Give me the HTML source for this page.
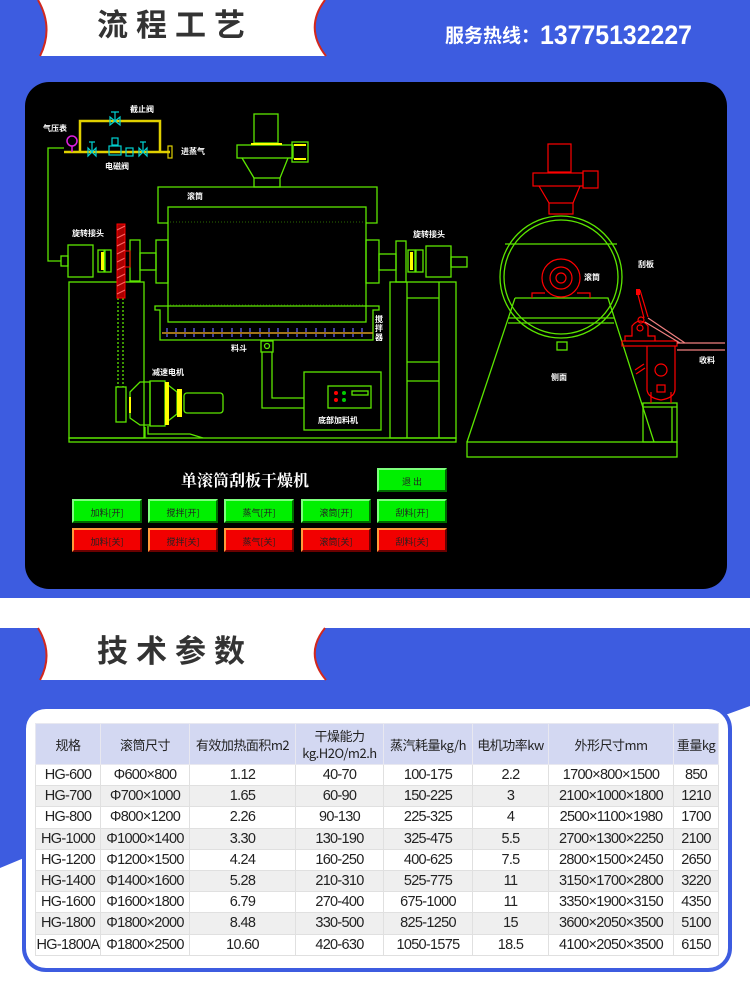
<!DOCTYPE html>
<html><head><meta charset="utf-8">
<style>
*{margin:0;padding:0;box-sizing:border-box}
body{width:750px;height:1004px;background:#fff;position:relative;overflow:hidden;font-family:"Liberation Sans","Noto Sans CJK SC",sans-serif}
.abs{position:absolute}
.tab-title{position:absolute;font-family:"Noto Sans CJK SC",sans-serif;font-weight:700;font-size:31px;color:#333;letter-spacing:8px}
.btn{position:absolute;width:70px;height:24px;font-size:9px;color:#222;text-align:center;line-height:24px;font-family:"Noto Sans CJK SC",sans-serif}
.g{background:#00f000;border-top:2px solid #7dff7d;border-left:2px solid #7dff7d;border-bottom:2px solid #006a00;border-right:2px solid #006a00}
.r{background:#f20000;border-top:2px solid #ff9a3a;border-left:2px solid #ff9a3a;border-bottom:2px solid #6a0000;border-right:2px solid #6a0000}
table{position:absolute;left:35px;top:723px;width:683px;border-collapse:collapse;font-family:"Liberation Sans Narrow","Liberation Sans","Noto Sans CJK SC",sans-serif;font-size:14.5px;letter-spacing:-0.7px;color:#222;table-layout:fixed}
td{border:1px solid #e0e0e0;text-align:center;height:21.2px;padding:0;white-space:nowrap;line-height:20px;overflow:hidden}
tr.h td{background:#d3d8f2;height:41px;font-family:"Noto Sans CJK SC",sans-serif;font-size:13px;letter-spacing:-0.5px;line-height:17px;border-color:#e8e8f0}
tr.gy td{background:#efefef}
</style></head><body>
<svg class="abs" style="left:0;top:0" width="750" height="1004" xmlns="http://www.w3.org/2000/svg">
<rect x="0" y="0" width="750" height="598" fill="#3d5ce0"/>
<path d="M38,0 Q54,28 40,56 L326,56 Q304,28 325,0 Z" fill="#fff"/>
<path d="M38,0 Q54,28 40,56" fill="none" stroke="#d2281e" stroke-width="2"/>
<path d="M325,0 Q304,28 326,56" fill="none" stroke="#d2281e" stroke-width="2"/>
<rect x="25" y="82" width="702" height="507" rx="24" fill="#000"/>
<polygon points="0,628 750,628 750,706 728,714 24,858 0,868" fill="#3d5ce0"/>
<path d="M38,628 Q54,654 40,680 L326,680 Q304,654 325,628 Z" fill="#fff"/>
<path d="M38,628 Q54,654 40,680" fill="none" stroke="#d2281e" stroke-width="2"/>
<path d="M325,628 Q304,654 326,680" fill="none" stroke="#d2281e" stroke-width="2"/>
<rect x="24" y="707" width="706" height="263" rx="22" fill="#fff" stroke="#3d5ce0" stroke-width="4"/>

<g fill="none" stroke="#5ce600" stroke-width="1.3">
<rect x="254" y="114" width="24" height="29"/>
<rect x="237" y="145" width="56" height="13"/>
<rect x="292" y="142" width="16" height="20"/>
<path d="M242,158 L254,178 M288,158 L280,178"/>
<rect x="254" y="178" width="26" height="9"/>
<path d="M168,223 L158,223 L158,187 L377,187 L377,223 L366,223"/>
<rect x="168" y="207" width="198" height="115"/>
<path d="M155,306 L155,310 L160,310 L160,340 L373,340 L373,310 L379,310 L379,306 Z"/>
<rect x="261" y="341" width="12" height="11"/>
<circle cx="267" cy="346" r="2.5"/>
<path d="M262,352 L262,408 L304,408 M272,352 L272,398 L304,398"/>
<rect x="304" y="372" width="77" height="58"/>
<rect x="328" y="386" width="43" height="22"/>
<rect x="352" y="391" width="16" height="4"/>
<rect x="69" y="282" width="75" height="156"/>
<rect x="390" y="282" width="66" height="156"/>
<path d="M407,282 L407,438 M439,282 L439,438 M407,298 L439,298 M407,362 L439,362 M407,381 L439,381"/>
<rect x="69" y="438" width="387" height="4"/>
<rect x="68" y="245" width="25" height="32"/>
<rect x="61" y="256" width="7" height="10"/>
<rect x="98" y="250" width="6" height="22"/><rect x="105" y="250" width="6" height="22"/>
<rect x="130" y="240" width="10" height="41"/>
<rect x="140" y="253" width="16" height="17"/>
<rect x="156" y="240" width="12" height="43"/>
<path d="M61,261 L48,261 L48,148 L64,148"/>
<rect x="366" y="240" width="13" height="43"/>
<rect x="379" y="254" width="17" height="16"/>
<rect x="396" y="241" width="10" height="41"/>
<rect x="408" y="250" width="7" height="22"/><rect x="416" y="250" width="7" height="22"/>
<rect x="426" y="246" width="25" height="31"/>
<rect x="451" y="257" width="16" height="10"/>
<rect x="116" y="387" width="10" height="35"/>
<path d="M130,392 L140,382 L150,382 L150,425 L140,425 L130,418 Z"/>
<rect x="150" y="381" width="15" height="45"/>
<path d="M168,385 L177,392 L177,414 L168,421"/>
<rect x="184" y="393" width="39" height="20" rx="3"/>
<path d="M145,427 L145,438 M148,426 L148,434 L190,434 L203,438"/>
<path d="M118,298 L118,387 M123,298 L123,387" stroke-dasharray="2,2"/>
<circle cx="561" cy="277" r="61"/>
<circle cx="561" cy="277" r="57"/>
<path d="M505,244 L617,244"/>
<path d="M515,298 L608,298 L654,442 M515,298 L467,442"/>
<path d="M508,318 L614,318 M508,323 L614,323"/>
<rect x="557" y="342" width="10" height="8"/>
<rect x="467" y="442" width="210" height="15"/>
<rect x="643" y="403" width="34" height="39"/>
<path d="M643,407 L677,407 M672,407 L672,442"/>
</g>
<path d="M170,222 L364,222 M170,305 L364,305" stroke="#2a6a00" stroke-width="1" stroke-dasharray="1,2"/>
<path d="M162,333 L373,333" stroke="#d89a20" stroke-width="1.5"/>
<g stroke-width="1.2">
<path d="M167,328v9M176,328v9M185,328v9M194,328v9M204,328v9M213,328v9M222,328v9M232,328v9M241,328v9M250,328v9M260,328v9M269,328v9M278,328v9M288,328v9M297,328v9M306,328v9M316,328v9M325,328v9M334,328v9M344,328v9M353,328v9M362,328v9" stroke="#6a6aff" stroke-dasharray="4,2"/>
</g>
<rect x="117" y="224" width="8" height="74" fill="#a00" stroke="#f00" stroke-width="1"/>
<path d="M117,230 L125,226 M117,238 L125,234 M117,246 L125,242 M117,254 L125,250 M117,262 L125,258 M117,270 L125,266 M117,278 L125,274 M117,286 L125,282 M117,294 L125,290" stroke="#f66" stroke-width="1"/>
<rect x="125" y="251" width="5" height="16" fill="none" stroke="#f00"/>
<g fill="#ff0">
<rect x="251" y="143" width="31" height="2"/><rect x="294" y="144" width="12" height="2"/><rect x="294" y="158" width="12" height="2"/>
<rect x="101" y="252" width="3" height="18"/><rect x="410" y="252" width="3" height="18"/>
<rect x="165" y="382" width="4" height="43"/><rect x="177" y="389" width="5" height="28"/>
<rect x="129" y="397" width="2" height="16"/>
</g>
<g fill="none" stroke="#e0d000" stroke-width="2.5">
<path d="M64,152 L170,152"/><path d="M80,152 L80,121 L160,121 L160,152"/>
</g>
<rect x="168" y="146" width="4" height="12" fill="none" stroke="#e0d000" stroke-width="1.2"/>
<g fill="none" stroke="#00d0d0" stroke-width="1.2">
<path d="M110,117 L120,125 L120,117 L110,125 Z M115,121 L115,112 M111,112 L119,112"/>
<path d="M88,148 L96,156 L96,148 L88,156 Z M92,152 L92,142 M89,142 L95,142"/>
<path d="M139,148 L147,156 L147,148 L139,156 Z M143,152 L143,142 M140,142 L146,142"/>
<rect x="109" y="146" width="12" height="9"/><rect x="112" y="138" width="6" height="7"/>
<rect x="126" y="148" width="7" height="8"/>
</g>
<circle cx="72" cy="141" r="5" fill="none" stroke="#e020e0" stroke-width="1.5"/>
<path d="M72,146 L72,152" stroke="#e020e0" stroke-width="1.5"/>
<g fill="#f00"><circle cx="336" cy="393" r="2"/><circle cx="336" cy="400" r="2"/></g>
<g fill="#0c0"><circle cx="344" cy="393" r="2"/><circle cx="344" cy="400" r="2"/></g>
<g fill="none" stroke="#f00" stroke-width="1.2">
<rect x="548" y="144" width="23" height="28"/>
<rect x="533" y="173" width="50" height="13"/>
<rect x="583" y="171" width="15" height="17"/>
<path d="M539,186 L549,203 M580,186 L573,203"/>
<rect x="549" y="203" width="24" height="11"/>
<circle cx="561" cy="278" r="19"/><circle cx="561" cy="278" r="11"/><circle cx="561" cy="278" r="5"/>
<path d="M532,298 L532,293 L545,293 M577,293 L590,293 L590,298"/>
<rect x="622" y="341" width="55" height="5"/>
<path d="M625,341 L625,336 L632,336 L632,326 Q640,316 648,326 L648,336 L655,336 L655,341"/>
<circle cx="640" cy="328" r="3"/><circle cx="641" cy="320" r="3"/>
<path d="M637,291 L644,318 M640,290 L648,317"/>
<path d="M647,346 L647,390 Q648,398 661,400 Q674,398 675,390 L675,346"/>
<circle cx="661" cy="370" r="6"/>
<rect x="657" y="385" width="8" height="7"/>
<path d="M651,392 L651,403 M671,392 L671,403 M635,370 L644,364 M636,374 L645,368"/>
</g>
<rect x="636" y="289" width="4" height="6" fill="#f00"/>
<path d="M648,318 L685,343 M645,322 L680,343 M677,343 L725,343 M677,350 L725,350" stroke="#f08080" stroke-width="1.2" fill="none"/>
<g fill="#fff" font-family="Noto Sans CJK SC,sans-serif" font-size="8" font-weight="700">
<text x="130" y="112">截止阀</text><text x="43" y="131">气压表</text><text x="181" y="154">进蒸气</text><text x="105" y="169">电磁阀</text>
<text x="187" y="199">滚筒</text><text x="72" y="236">旋转接头</text><text x="413" y="237">旋转接头</text>
<text x="231" y="351">料斗</text><text x="152" y="375">减速电机</text><text x="318" y="423">底部加料机</text>
<text x="375" y="322">搅</text><text x="375" y="331">拌</text><text x="375" y="340">器</text>
<text x="584" y="280">滚筒</text><text x="638" y="267">刮板</text><text x="699" y="363">收料</text><text x="551" y="380">侧面</text>
</g>
<text x="245" y="486" text-anchor="middle" fill="#fff" font-family="Noto Serif CJK SC,serif" font-weight="700" font-size="16">单滚筒刮板干燥机</text>
</svg>

<div class="tab-title" style="left:97px;top:0px">流程工艺</div>
<div class="abs" style="left:445px;top:20px;color:#fff;font-weight:700;font-size:19px;font-family:'Noto Sans CJK SC',sans-serif;white-space:nowrap">服务热线：<span style="display:inline-block;font-family:'Liberation Sans Narrow','Liberation Sans',sans-serif;font-size:27px;transform:scaleX(0.92);transform-origin:left center;vertical-align:-2px">13775132227</span></div>
<div class="tab-title" style="left:97px;top:626px">技术参数</div>

<div class="btn g" style="left:377px;top:468px">退 出</div>
<div class="btn g" style="left:72px;top:499px">加料[开]</div>
<div class="btn g" style="left:148px;top:499px">搅拌[开]</div>
<div class="btn g" style="left:224px;top:499px">蒸气[开]</div>
<div class="btn g" style="left:301px;top:499px">滚筒[开]</div>
<div class="btn g" style="left:377px;top:499px">刮料[开]</div>
<div class="btn r" style="left:72px;top:528px">加料[关]</div>
<div class="btn r" style="left:148px;top:528px">搅拌[关]</div>
<div class="btn r" style="left:224px;top:528px">蒸气[关]</div>
<div class="btn r" style="left:301px;top:528px">滚筒[关]</div>
<div class="btn r" style="left:377px;top:528px">刮料[关]</div>

<table>
<colgroup><col style="width:65px"><col style="width:89px"><col style="width:106px"><col style="width:88px"><col style="width:89px"><col style="width:76px"><col style="width:125px"><col style="width:45px"></colgroup>
<tr class="h"><td>规格</td><td>滚筒尺寸</td><td>有效加热面积m2</td><td>干燥能力<br>kg.H2O/m2.h</td><td>蒸汽耗量kg/h</td><td>电机功率kw</td><td>外形尺寸mm</td><td>重量kg</td></tr>
<tr><td>HG-600</td><td>Φ600×800</td><td>1.12</td><td>40-70</td><td>100-175</td><td>2.2</td><td>1700×800×1500</td><td>850</td></tr>
<tr class="gy"><td>HG-700</td><td>Φ700×1000</td><td>1.65</td><td>60-90</td><td>150-225</td><td>3</td><td>2100×1000×1800</td><td>1210</td></tr>
<tr><td>HG-800</td><td>Φ800×1200</td><td>2.26</td><td>90-130</td><td>225-325</td><td>4</td><td>2500×1100×1980</td><td>1700</td></tr>
<tr class="gy"><td>HG-1000</td><td>Φ1000×1400</td><td>3.30</td><td>130-190</td><td>325-475</td><td>5.5</td><td>2700×1300×2250</td><td>2100</td></tr>
<tr><td>HG-1200</td><td>Φ1200×1500</td><td>4.24</td><td>160-250</td><td>400-625</td><td>7.5</td><td>2800×1500×2450</td><td>2650</td></tr>
<tr class="gy"><td>HG-1400</td><td>Φ1400×1600</td><td>5.28</td><td>210-310</td><td>525-775</td><td>11</td><td>3150×1700×2800</td><td>3220</td></tr>
<tr><td>HG-1600</td><td>Φ1600×1800</td><td>6.79</td><td>270-400</td><td>675-1000</td><td>11</td><td>3350×1900×3150</td><td>4350</td></tr>
<tr class="gy"><td>HG-1800</td><td>Φ1800×2000</td><td>8.48</td><td>330-500</td><td>825-1250</td><td>15</td><td>3600×2050×3500</td><td>5100</td></tr>
<tr><td>HG-1800A</td><td>Φ1800×2500</td><td>10.60</td><td>420-630</td><td>1050-1575</td><td>18.5</td><td>4100×2050×3500</td><td>6150</td></tr>
</table>
</body></html>
